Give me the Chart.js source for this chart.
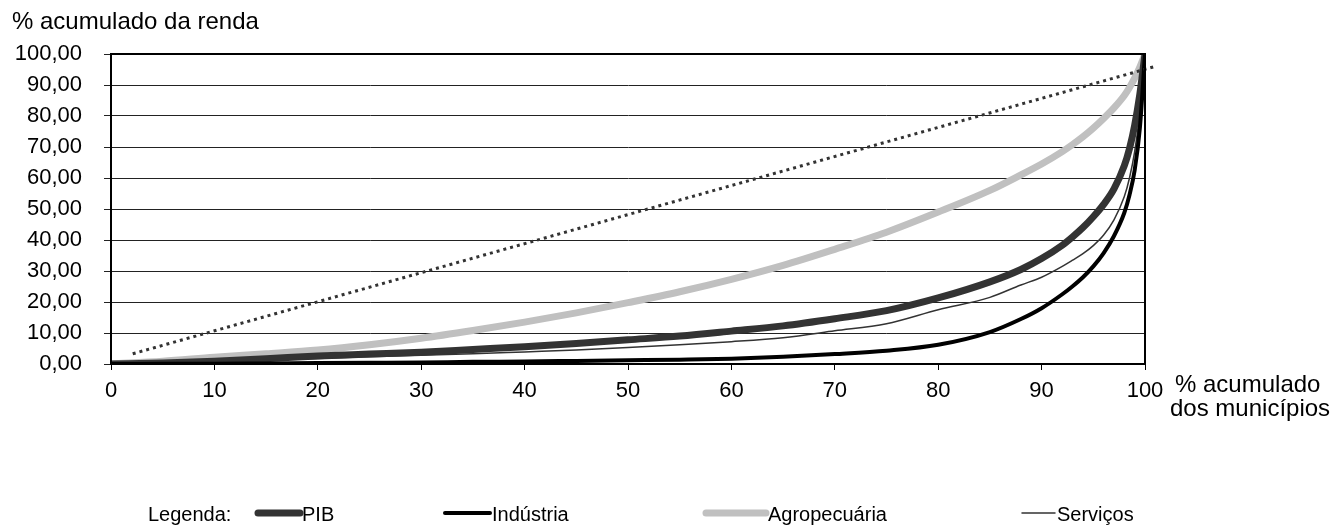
<!DOCTYPE html>
<html>
<head>
<meta charset="utf-8">
<script src="https://cdn.jsdelivr.net/npm/chart.js@4/dist/chart.umd.min.js"></script>
<style>
  html, body { margin: 0; padding: 0; background: #fff; }
  #wrap { width: 1340px; height: 530px; }
</style>
</head>
<body>
<div id="wrap"><canvas id="lorenz" width="1340" height="530"></canvas></div>
<script>
// Curvas de Lorenz: % acumulado dos municípios x % acumulado da renda

const municipios = [0, 5, 10, 15, 20, 25, 30, 35, 40, 45, 50, 55, 60, 65, 70, 75, 80, 85, 88, 90, 92, 93, 94, 95, 96, 97, 98, 98.5, 99, 99.5, 100];

const pib        = [0, 0.3, 0.9, 1.7, 2.6, 3.2, 3.8, 4.7, 5.6, 6.6, 7.8, 9.0, 10.6, 12.3, 14.6, 17.2, 21.3, 26.5, 30.5, 34, 38.3, 41, 44, 47.5, 51.5, 56.5, 64, 69.5, 77, 87, 100];
const industria  = [0, 0.05, 0.1, 0.2, 0.3, 0.4, 0.5, 0.7, 0.8, 1.0, 1.2, 1.4, 1.7, 2.3, 3.2, 4.3, 6.2, 10.3, 14.5, 18, 22.5, 25.1, 28, 31.5, 35.8, 41.3, 48.8, 54.5, 62.5, 76, 100];
const agro       = [0, 0.9, 2.2, 3.3, 4.5, 6.2, 8.3, 10.8, 13.5, 16.5, 19.8, 23.3, 27.3, 31.8, 37, 42.5, 49, 56, 61, 64.5, 68.5, 70.8, 73.3, 76.1, 79.2, 82.6, 86.6, 89.2, 92.2, 95.8, 100];
const servicos   = [0, 0.3, 0.7, 1.2, 1.8, 2.3, 2.8, 3.3, 3.9, 4.5, 5.3, 6.2, 7.2, 8.5, 10.7, 13, 17.5, 21.5, 25.5, 28, 31.5, 33.5, 35.6, 38.2, 41.6, 46.5, 54, 60, 68.5, 81, 100];

// linha pontilhada (reta de referência)
const retaX = [2.1, 101];
const retaY = [3.3, 96];

const yTicks = [0, 10, 20, 30, 40, 50, 60, 70, 80, 90, 100];
const xTicks = [0, 10, 20, 30, 40, 50, 60, 70, 80, 90, 100];

const FONT = '"Liberation Sans", Arial, sans-serif';

function pts(xs, ys) {
  return xs.map((x, i) => ({ x, y: ys[i] }));
}

// textos fora da área do gráfico + moldura
const extrasPlugin = {
  id: "extras",
  afterDraw(chart) {
    const { ctx, chartArea } = chart;
    ctx.save();

    // moldura
    ctx.strokeStyle = "#000";
    ctx.lineWidth = 2;
    ctx.beginPath();
    ctx.moveTo(chartArea.left, chartArea.bottom);
    ctx.lineTo(chartArea.left, chartArea.top);
    ctx.lineTo(chartArea.right, chartArea.top);
    ctx.lineTo(chartArea.right, chartArea.bottom);
    ctx.stroke();

    ctx.fillStyle = "#000";
    ctx.textBaseline = "middle";
    ctx.textAlign = "left";
    ctx.font = "24px " + FONT;
    ctx.fillText("% acumulado da renda", 12, 22);
    ctx.fillText("% acumulado", 1175, 385);
    ctx.fillText("dos municípios", 1170, 409);

    // legenda
    ctx.font = "20px " + FONT;
    ctx.fillText("Legenda:", 148, 515);
    const slots = [[258, 300], [445, 490], [706, 766], [1022, 1055]];
    const sets = chart.data.datasets.filter(d => d.inLegend);
    sets.forEach((ds, i) => {
      const [x0, x1] = slots[i];
      ctx.strokeStyle = ds.borderColor;
      ctx.lineWidth = ds.borderWidth;
      ctx.lineCap = "round";
      ctx.beginPath();
      ctx.moveTo(x0, 513);
      ctx.lineTo(x1, 513);
      ctx.stroke();
      ctx.fillText(ds.label, x1 + 2, 515);
    });
    ctx.restore();
  }
};

new Chart(document.getElementById("lorenz"), {
  type: "line",
  data: {
    datasets: [
      {
        label: "PIB", inLegend: true, order: 3,
        data: pts(municipios, pib),
        borderColor: "#333333", borderWidth: 7
      },
      {
        label: "Indústria", inLegend: true, order: 1,
        data: pts(municipios, industria),
        borderColor: "#000000", borderWidth: 4
      },
      {
        label: "Agropecuária", inLegend: true, order: 4,
        data: pts(municipios, agro),
        borderColor: "#c0c0c0", borderWidth: 7
      },
      {
        label: "Serviços", inLegend: true, order: 2,
        data: pts(municipios, servicos),
        borderColor: "#333333", borderWidth: 1.5
      },
      {
        label: "reta", inLegend: false, order: 0,
        data: pts(retaX, retaY),
        borderColor: "#333333", borderWidth: 3,
        borderCapStyle: "butt",
        borderDash: [3, 4], clip: false
      }
    ]
  },
  options: {
    responsive: false,
    animation: false,
    devicePixelRatio: 1,
    layout: { padding: { left: 0, top: 54, right: 195, bottom: 0 } },
    elements: {
      point: { radius: 0 },
      line: { cubicInterpolationMode: "monotone", borderCapStyle: "round", fill: false }
    },
    plugins: {
      legend: { display: false },
      tooltip: { enabled: false }
    },
    scales: {
      x: {
        type: "linear", min: 0, max: 100,
        afterBuildTicks(scale) { scale.ticks = xTicks.map(v => ({ value: v })); },
        afterFit(scale) { scale.height = 166; },
        grid: { drawOnChartArea: false, drawTicks: true, tickLength: 6, color: "#000", lineWidth: 1 },
        border: { color: "#000", width: 2 },
        ticks: { color: "#000", font: { family: FONT, size: 22 }, padding: 8, maxRotation: 0 }
      },
      y: {
        min: 0, max: 100,
        afterBuildTicks(scale) { scale.ticks = yTicks.map(v => ({ value: v })); },
        afterFit(scale) { scale.width = 111; },
        grid: { color: "#222", lineWidth: 1, tickLength: 7 },
        border: { color: "#000", width: 2 },
        ticks: {
          color: "#000", font: { family: FONT, size: 22 }, padding: 22,
          callback: v => v.toFixed(2).replace(".", ",")
        }
      }
    }
  },
  plugins: [extrasPlugin]
});
</script>
</body>
</html>
